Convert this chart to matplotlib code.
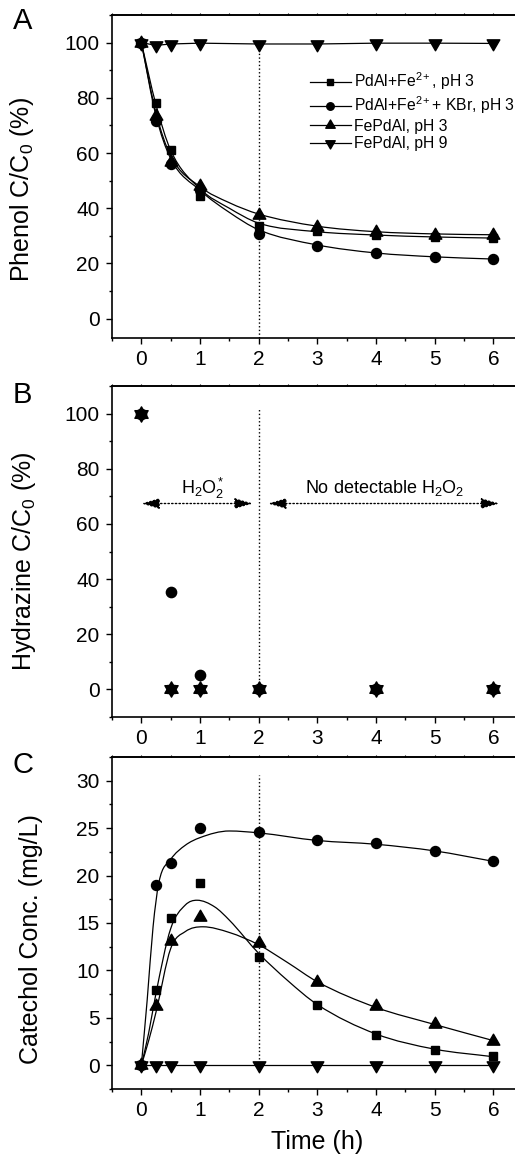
import numpy as np
import matplotlib
matplotlib.use("Agg")
import matplotlib.pyplot as plt
from matplotlib.path import Path
from matplotlib.patches import PathPatch
from matplotlib.ticker import MultipleLocator

plt.rcParams['font.family'] = ['Liberation Sans', 'DejaVu Sans']
plt.rcParams['mathtext.fontset'] = 'custom'
plt.rcParams['mathtext.rm'] = 'Liberation Sans'
plt.rcParams['mathtext.it'] = 'Liberation Sans:italic'
plt.rcParams['mathtext.default'] = 'regular'

# ---- data ----
labels = ['PdAl+Fe$^{2+}$, pH 3', 'PdAl+Fe$^{2+}$+ KBr, pH 3',
          'FePdAl, pH 3', 'FePdAl, pH 9']

# triangles centred on their centroid (as in the original software)
TRI_UP = Path([(0, 1), (-0.866, -0.5), (0.866, -0.5), (0, 1)], closed=True)
TRI_DN = Path([(0, -1), (-0.866, 0.5), (0.866, 0.5), (0, -1)], closed=True)
markers = ['s', 'o', TRI_UP, TRI_DN]
msizes = [6, 7.2, 10.5, 10.5]

# panel A: phenol C/C0 (%)
t_a = [0, 0.25, 0.5, 1, 2, 3, 4, 5, 6]
phenol_sq = [100, 78, 61.2, 44.3, 33.7, 31.6, 30.4, 29.6, 29.2]
phenol_ci = [100, 71.5, 56.2, 46.5, 30.8, 26.2, 23.7, 22.5, 21.7]
phenol_up = [100, 73.3, 56.8, 48, 37.7, 33.2, 31.3, 30.4, 30.4]
phenol_dn = [100, 99, 99.5, 99.8, 99.5, 99.5, 99.8, 99.8, 99.7]
# fitted curves
tfit_a = [0, 0.25, 0.5, 1, 1.5, 2, 3, 4, 5, 6]
fit_a_sq = [100, 77.5, 61, 47, 40, 34.6, 31.5, 30.3, 29.6, 29.2]
fit_a_ci = [100, 73.5, 58, 46.5, 38.5, 32.2, 26.7, 23.8, 22.4, 21.6]
fit_a_up = [100, 74.5, 59, 47.8, 42, 37.9, 33.5, 31.5, 30.7, 30.4]

# panel B: hydrazine C/C0 (%)
t_b = [0, 0.5, 1, 2, 4, 6]
hydr_sq = [100, 0, 0, 0, 0, 0]
hydr_ci = [100, 35.3, 5.3, 0, 0, 0]
hydr_up = [100, 0, 0, 0, 0, 0]
hydr_dn = [100, 0, 0, 0, 0, 0]

# panel C: catechol (mg/L)
t_c = [0, 0.25, 0.5, 1, 2, 3, 4, 5, 6]
cat_sq = [0, 7.9, 15.5, 19.2, 11.45, 6.4, 3.2, 1.65, 1.0]
cat_ci = [0, 19.0, 21.3, 25.0, 24.6, 23.7, 23.4, 22.6, 21.5]
cat_up = [0, 6.2, 13.1, 15.6, 12.9, 8.8, 6.2, 4.4, 2.6]
cat_dn = [0, 0, 0, 0, 0, 0, 0, 0, 0]
tfit_c_sq = [0, 0.125, 0.25, 0.5, 0.75, 0.95, 1.25, 1.5, 2, 2.5, 3, 4, 5, 6]
fit_c_sq = [0, 3.4, 7.6, 14.4, 16.9, 17.4, 16.7, 15.3, 11.8, 8.9, 6.4, 3.3, 1.7, 0.9]
tfit_c_ci = [0, 0.1, 0.2, 0.3, 0.5, 0.75, 1, 1.5, 2, 3, 4, 5, 6]
fit_c_ci = [0, 6.9, 14.6, 19.3, 21.7, 23.2, 24.0, 24.7, 24.5, 23.7, 23.3, 22.6, 21.5]
tfit_c_up = [0, 0.125, 0.25, 0.5, 0.75, 1.05, 1.5, 2, 2.5, 3, 4, 5, 6]
fit_c_up = [0, 2.6, 5.6, 12.3, 14.1, 14.6, 14.0, 12.7, 10.8, 8.8, 6.1, 4.3, 2.6]

t_split = 2


def smooth_curve(ax, x, y, **kw):
    """Monotone cubic (Fritsch-Carlson) drawn as Bezier segments."""
    x = np.asarray(x, float)
    y = np.asarray(y, float)
    h = np.diff(x)
    d = np.diff(y) / h
    m = np.zeros_like(y)
    m[0], m[-1] = d[0], d[-1]
    for k in range(1, len(y) - 1):
        if d[k - 1] * d[k] <= 0:
            m[k] = 0.0
        else:
            m[k] = (d[k - 1] + d[k]) / 2
    for k in range(len(d)):
        if d[k] == 0:
            m[k] = m[k + 1] = 0.0
            continue
        a, b = m[k] / d[k], m[k + 1] / d[k]
        s = a * a + b * b
        if s > 9:
            tau = 3 / np.sqrt(s)
            m[k], m[k + 1] = tau * a * d[k], tau * b * d[k]
    verts = [(x[0], y[0])]
    codes = [Path.MOVETO]
    for k in range(len(h)):
        verts += [(x[k] + h[k] / 3, y[k] + m[k] * h[k] / 3),
                  (x[k + 1] - h[k] / 3, y[k + 1] - m[k + 1] * h[k] / 3),
                  (x[k + 1], y[k + 1])]
        codes += [Path.CURVE4] * 3
    ax.add_patch(PathPatch(Path(verts, codes), fill=False, **kw))


fig = plt.figure(figsize=(5.15, 11.55), dpi=100)
W, H = 515, 1155
left, width = 112 / W, 410.7 / W
ax_a = fig.add_axes([left, 1 - 338 / H, width, 323 / H])
ax_b = fig.add_axes([left, 1 - 717 / H, width, 331 / H])
ax_c = fig.add_axes([left, 1 - 1089 / H, width, 332 / H])

for ax in (ax_a, ax_b, ax_c):
    ax.set_xlim(-0.5, 6.5)
    ax.xaxis.set_major_locator(MultipleLocator(1))
    ax.xaxis.set_minor_locator(MultipleLocator(0.5))
    ax.tick_params(which='both', direction='out', width=1, labelsize=15,
                   top=False, right=False)
    ax.tick_params(which='major', length=4, pad=5)
    ax.tick_params(which='minor', length=2.5)
    for s in ax.spines.values():
        s.set_linewidth(1.2)
    ax.set_xticks(range(0, 7))
    top = ax.secondary_xaxis('top')
    top.xaxis.set_major_locator(MultipleLocator(0.5))
    top.tick_params(direction='out', length=1.5, width=0.8, labeltop=False)
    top.spines['top'].set_linewidth(1.2)

lw = 0.9
# ---- A ----
ax_a.set_ylim(-7, 110)
ax_a.yaxis.set_minor_locator(MultipleLocator(10))
ax_a.set_yticks(range(0, 101, 20))
ax_a.plot([t_split, t_split], [-7, 100], ls=':', color='k', lw=1)
for tf, yf in ((tfit_a, fit_a_sq), (tfit_a, fit_a_ci), (tfit_a, fit_a_up)):
    smooth_curve(ax_a, tf, yf, edgecolor='k', lw=lw)
ax_a.plot(t_a, phenol_dn, color='k', lw=lw)
for ys, mk, ms in zip((phenol_sq, phenol_ci, phenol_up, phenol_dn), markers, msizes):
    ax_a.plot(t_a, ys, ls='none', marker=mk, ms=ms, color='k')
handles = [plt.Line2D([], [], color='k', lw=lw, marker=mk, ms=ms * 0.75)
           for mk, ms in zip(markers, msizes)]
ax_a.legend(handles, labels, loc='upper left', bbox_to_anchor=(0.482, 0.828),
            frameon=False, fontsize=11.3, handlelength=2.6, handletextpad=0.2,
            labelspacing=0.15, borderpad=0, borderaxespad=0)
ax_a.set_ylabel('Phenol C/C$_0$ (%)', fontsize=18, va='center')
ax_a.yaxis.set_label_coords((22 - 112) / 410.7, (338 - 190) / 323)

# ---- B ----
ax_b.set_ylim(-10, 110)
ax_b.yaxis.set_minor_locator(MultipleLocator(10))
ax_b.set_yticks(range(0, 101, 20))
ax_b.plot([t_split, t_split], [1, 101.5], ls=':', color='k', lw=1)
b_sizes = [6, 7.4, 11, 11]
for ys, mk, ms in zip((hydr_sq, hydr_ci, hydr_up, hydr_dn), markers, b_sizes):
    ax_b.plot(t_b, ys, ls='none', marker=mk, ms=ms, color='k')
arrow = dict(arrowstyle='<|-|>,head_length=1.1,head_width=0.32', ls=':',
             color='k', lw=1, shrinkA=0, shrinkB=0, mutation_scale=10)
ax_b.annotate('', xy=(0, 67.4), xytext=(1.9, 67.4), arrowprops=arrow)
ax_b.annotate('', xy=(2.16, 67.4), xytext=(6.1, 67.4), arrowprops=arrow)
ax_b.text(1.04, 73, 'H$_2$O$_2^*$', fontsize=13, ha='center', va='center')
ax_b.text(4.15, 73, 'No detectable H$_2$O$_2$', fontsize=13, ha='center', va='center')
ax_b.set_ylabel('Hydrazine C/C$_0$ (%)', fontsize=18, va='center')
ax_b.yaxis.set_label_coords((24 - 112) / 410.7, (717 - 561) / 331)

# ---- C ----
ax_c.set_ylim(-2.5, 32.5)
ax_c.yaxis.set_minor_locator(MultipleLocator(2.5))
ax_c.set_yticks(range(0, 31, 5))
ax_c.plot([t_split, t_split], [0.7, 30.6], ls=':', color='k', lw=1)
for tf, yf in ((tfit_c_sq, fit_c_sq), (tfit_c_ci, fit_c_ci), (tfit_c_up, fit_c_up)):
    smooth_curve(ax_c, tf, yf, edgecolor='k', lw=lw)
ax_c.plot(t_c, cat_dn, color='k', lw=lw)
for ys, mk, ms in zip((cat_sq, cat_ci, cat_up, cat_dn), markers, msizes):
    ax_c.plot(t_c, ys, ls='none', marker=mk, ms=ms, color='k')
ax_c.set_ylabel('Catechol Conc. (mg/L)', fontsize=18, va='center')
ax_c.yaxis.set_label_coords((31 - 112) / 410.7, (1089 - 939) / 332)
ax_c.set_xlabel('Time (h)', fontsize=18, labelpad=7)

# panel letters
for letter, y in (('A', 13), ('B', 387), ('C', 757)):
    fig.text(13 / W, 1 - (y - 6) / H, letter, fontsize=21, ha='left', va='top')

fig.savefig('out.png', dpi=100)
